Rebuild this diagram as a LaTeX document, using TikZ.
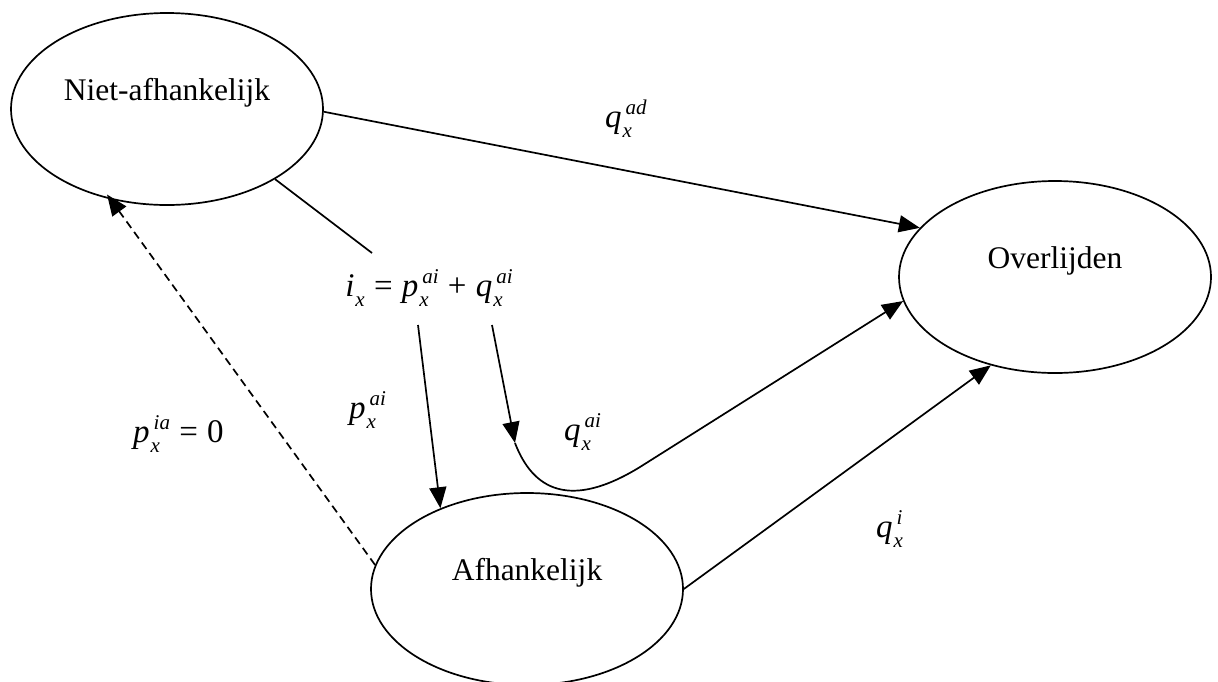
\documentclass[tikz,border=0pt]{standalone}
\usepackage{fontspec}
\setmainfont{Liberation Serif}
\usetikzlibrary{shapes.geometric,arrows.meta}
\newcommand\vr[3]{\textit{#1}{\fontsize{21}{21}\selectfont\itshape
\setbox0=\hbox{\kern4pt #2}\setbox2=\hbox{\kern1pt #3}%
\ifdim\wd0>\wd2 \rlap{\raisebox{-10pt}{\box2}}\raisebox{13pt}{\box0}%
\else\rlap{\raisebox{13pt}{\box0}}\raisebox{-10pt}{\box2}\fi}}
\newcommand\op[1]{\kern1pt\relax#1\kern1pt\relax}
\begin{document}
\begin{tikzpicture}[x=1pt,y=-1pt,
  state/.style={ellipse, draw, line width=1.7pt, minimum width=312pt, minimum height=192pt,
    inner sep=0pt, text height=0pt, text depth=0pt, font=\fontsize{31.5}{36}\selectfont},
  lbl/.style={inner sep=0pt, anchor=base west, font=\fontsize{33}{38}\selectfont},
  conn/.style={line width=1.7pt},
  arr/.style={conn, -{Triangle[length=21pt,width=17pt]}},
]
\useasboundingbox (0,0) rectangle (1218,681);

\node[state] (n1) at (167,109) {\raisebox{9pt}{Niet-afhankelijk}};
\node[state] (n2) at (1055,277) {\raisebox{9pt}{Overlijden}};
\node[state] (n3) at (527,589) {\raisebox{9pt}{Afhankelijk}};

\node[lbl, anchor=base] (f) at (429,296) {\vr{i}{}{x} \op{=} \vr{p}{ai}{x} \op{+} \vr{q}{ai}{x}};

\coordinate (fl) at (372,253);
\coordinate (pa) at (418,325);
\coordinate (qa) at (492,325);
\coordinate (qm) at (515,443);

\draw[arr] (n1.-1) -- (n2.160.3);
\draw[conn] (n1.-33.3) -- (fl);
\draw[arr] (pa) -- (n3.137.8);
\draw[arr] (qa) -- (qm);
\draw[arr] (qm) .. controls (533,490) and (570,510) .. (640,467) -- (n2.189);
\draw[arr] (n3.0) -- (n2.234.5);
\draw[arr, dash pattern=on 8pt off 5pt, shorten >=-6pt] (n3.171.2) -- (n1.238.7);

\node[lbl] (lad) at (605,127) {\vr{q}{ad}{x}};
\node[lbl] (lia) at (133,442) {\vr{p}{ia}{x} \op{=} 0};
\node[lbl] (lpai) at (349,418) {\vr{p}{ai}{x}};
\node[lbl] (lqai) at (564,440) {\vr{q}{ai}{x}};
\node[lbl] (lqi) at (876,537) {\vr{q}{i}{x}};
\end{tikzpicture}
\end{document}
